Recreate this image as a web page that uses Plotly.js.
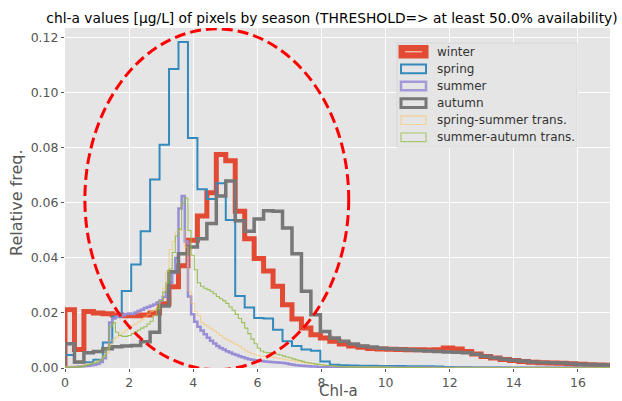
<!DOCTYPE html>
<html>
<head>
<meta charset="utf-8">
<script src="https://cdn.plot.ly/plotly-3.0.1.min.js"></script>
<style>html,body{margin:0;padding:0;background:#fff;}#chart{width:622px;height:401px;}</style>
</head>
<body>
<div id="chart"></div>
<script>
// ---- data ----
const BIN_W = 0.295;            // width of the coarse histogram bins (Chl-a units)
const FINE_BINS = 90;           // fine bins (BIN_W/3) used by summer & transition series up to 8.85
const seriesNames = ["winter", "spring", "summer", "autumn", "spring-summer trans.", "summer-autumn trans."];

const winter = [0.0212,0.0067,0.0205,0.0200,0.0197,0.0193,0.0190,0.0190,0.0193,0.0200,
  0.0234,0.0295,0.0372,0.0464,0.0553,0.0637,0.0776,0.0753,0.0570,0.0470,
  0.0398,0.0353,0.0297,0.0230,0.0178,0.0145,0.0121,0.0109,0.0097,0.0087,
  0.0080,0.0075,0.0071,0.0069,0.0068,0.0067,0.0066,0.0066,0.0065,0.0066,
  0.0073,0.0069,0.0060,0.0051,0.0042,0.0036,0.0031,0.0027,0.0024,0.0021,
  0.0019,0.0018,0.0017,0.0015,0.0014,0.0012,0.0011,0.0010];

const spring = [0.0047,0.0020,0.0021,0.0030,0.0093,0.0186,0.0280,0.0376,0.0497,0.0685,
  0.0812,0.1087,0.1185,0.0836,0.0650,0.0614,0.0672,0.0538,0.0262,0.0220,
  0.0182,0.0180,0.0139,0.0097,0.0080,0.0067,0.0063,0.0024,0.0012,0.0010,
  0.0009,0.0008,0.0008,0.0007,0.0007,0.0007,0.0006,0.0006,0.0006,0.0005,
  0.0004,0.0003,0.0003,0.0002,0.0002,0.0002,0.0002,0.0001,0.0001,0.0001,
  0.0001,0.0001,0.0001,0.0001,0.0001,0.0001,0.0001,0.0001];

const autumn = [0.0088,0.0022,0.0055,0.0060,0.0070,0.0077,0.0080,0.0082,0.0095,0.0130,
  0.0225,0.0350,0.0415,0.0440,0.0470,0.0525,0.0625,0.0680,0.0535,0.0497,
  0.0542,0.0572,0.0570,0.0509,0.0415,0.0279,0.0194,0.0133,0.0109,0.0097,
  0.0087,0.0080,0.0076,0.0072,0.0070,0.0068,0.0066,0.0064,0.0062,0.0060,
  0.0058,0.0057,0.0055,0.0050,0.0043,0.0037,0.0032,0.0028,0.0025,0.0022,
  0.0020,0.0019,0.0018,0.0016,0.0014,0.0013,0.0012,0.0011];

// fine-bin part (0 .. 8.85) followed by coarse tail (8.85 .. 17.1)
const summerFine = [0.0003,0.0003,0.0004,0.0004,0.0005,0.0006,0.0007,0.0008,0.0010,0.0012,
  0.0015,0.0022,0.0035,0.0070,0.0165,0.0180,0.0185,0.0188,0.0192,0.0196,
  0.0198,0.0196,0.0202,0.0207,0.0212,0.0218,0.0222,0.0226,0.0231,0.0237,
  0.0245,0.0258,0.0278,0.0310,0.0345,0.0400,0.0580,0.0625,0.0460,0.0260,
  0.0195,0.0168,0.0150,0.0136,0.0123,0.0110,0.0099,0.0089,0.0080,0.0073,
  0.0067,0.0061,0.0056,0.0051,0.0047,0.0043,0.0039,0.0035,0.0032,0.0030,
  0.0028,0.0026,0.0025,0.0024,0.0023,0.0022,0.0021,0.0020,0.0019,0.0018,
  0.0016,0.0014,0.0012,0.0010,0.0009,0.0008,0.0007,0.0006,0.0005,0.0005,
  0.0004,0.0004,0.0004,0.0004,0.0004,0.0003,0.0003,0.0003,0.0003,0.0003];
const summerTail = [0.0003,0.0003,0.0002,0.0002,0.0002,0.0002,0.0002,0.0002,0.0002,0.0001,
  0.0001,0.0001,0.0001,0.0001,0.0001,0.0001,0.0001,0.0001,0.0001,0.0001,
  0.0001,0.0001,0.0001,0.0001,0.0001,0.0001,0.0001,0.0001];

const sprSumFine = [0.0005,0.0005,0.0005,0.0005,0.0008,0.0010,0.0012,0.0015,0.0018,0.0022,
  0.0026,0.0030,0.0042,0.0055,0.0085,0.0105,0.0112,0.0120,0.0128,0.0138,
  0.0145,0.0155,0.0160,0.0168,0.0175,0.0185,0.0195,0.0205,0.0212,0.0225,
  0.0245,0.0290,0.0350,0.0430,0.0460,0.0495,0.0503,0.0500,0.0440,0.0280,
  0.0235,0.0205,0.0190,0.0165,0.0158,0.0150,0.0142,0.0135,0.0127,0.0118,
  0.0109,0.0103,0.0097,0.0091,0.0085,0.0079,0.0070,0.0063,0.0057,0.0052,
  0.0048,0.0045,0.0043,0.0042,0.0042,0.0040,0.0038,0.0036,0.0034,0.0032,
  0.0030,0.0028,0.0026,0.0024,0.0022,0.0020,0.0018,0.0016,0.0015,0.0013,
  0.0012,0.0011,0.0010,0.0009,0.0008,0.0007,0.0006,0.0006,0.0005,0.0005];
const sprSumTail = [0.0004,0.0004,0.0003,0.0003,0.0003,0.0002,0.0002,0.0002,0.0002,0.0002,
  0.0001,0.0001,0.0001,0.0001,0.0001,0.0001,0.0001,0.0001,0.0001,0.0001,
  0.0001,0.0001,0.0001,0.0001,0.0001,0.0001,0.0001,0.0001];

const sumAutFine = [0.0003,0.0003,0.0003,0.0003,0.0003,0.0005,0.0008,0.0012,0.0015,0.0018,
  0.0022,0.0030,0.0045,0.0070,0.0150,0.0165,0.0130,0.0118,0.0115,0.0115,
  0.0118,0.0125,0.0132,0.0138,0.0145,0.0150,0.0160,0.0170,0.0190,0.0215,
  0.0245,0.0275,0.0310,0.0360,0.0420,0.0480,0.0505,0.0600,0.0618,0.0500,
  0.0410,0.0357,0.0310,0.0297,0.0290,0.0285,0.0279,0.0270,0.0260,0.0252,
  0.0245,0.0235,0.0222,0.0210,0.0195,0.0180,0.0165,0.0145,0.0125,0.0105,
  0.0088,0.0072,0.0062,0.0057,0.0056,0.0055,0.0053,0.0050,0.0047,0.0043,
  0.0040,0.0037,0.0033,0.0030,0.0027,0.0024,0.0021,0.0019,0.0017,0.0015,
  0.0013,0.0012,0.0010,0.0009,0.0008,0.0007,0.0006,0.0005,0.0005,0.0004];
const sumAutTail = [0.0004,0.0003,0.0003,0.0003,0.0002,0.0002,0.0002,0.0002,0.0001,0.0001,
  0.0001,0.0001,0.0001,0.0001,0.0001,0.0001,0.0001,0.0001,0.0001,0.0001,
  0.0001,0.0001,0.0001,0.0001,0.0001,0.0001,0.0001,0.0001];

const xTickVals = [0, 2, 4, 6, 8, 10, 12, 14, 16];
const yTickVals = [0.00, 0.02, 0.04, 0.06, 0.08, 0.10, 0.12];
const chartTitle = "chl-a values [µg/L] of pixels by season (THRESHOLD=> at least 50.0% availability)";
const xLabel = "Chl-a";
const yLabel = "Relative freq.";

// ---- histogram edge helpers ----
function coarseEdges(n) { const e = []; for (let k = 0; k <= n; k++) e.push(k * BIN_W); return e; }
function fineEdges(nFine, nTail) {
  const fw = BIN_W / 3, e = [];
  for (let j = 0; j <= nFine; j++) e.push(j * fw);
  const start = nFine * fw;
  for (let k = 1; k <= nTail; k++) e.push(start + k * BIN_W);
  return e;
}
function stepTrace(edges, vals, name, color, width) {
  const x = [edges[0]], y = [0];
  for (let i = 0; i < vals.length; i++) { x.push(edges[i]); y.push(vals[i]); }
  x.push(edges[vals.length]); y.push(vals[vals.length - 1]);
  x.push(edges[vals.length]); y.push(0);
  return { type: "scatter", mode: "lines", x: x, y: y, name: name, showlegend: false,
           line: { shape: "hv", color: color, width: width }, hoverinfo: "skip" };
}

const COLORS = ["#E24A33", "#348ABD", "#988ED5", "#777777", "rgba(251,193,94,0.65)", "rgba(142,186,66,0.85)"];
const WIDTHS = [5, 2, 2.5, 3.5, 1, 1.1];

const traces = [
  stepTrace(coarseEdges(winter.length), winter, seriesNames[0], COLORS[0], WIDTHS[0]),
  stepTrace(coarseEdges(spring.length), spring, seriesNames[1], COLORS[1], WIDTHS[1]),
  stepTrace(fineEdges(FINE_BINS, summerTail.length), summerFine.concat(summerTail), seriesNames[2], COLORS[2], WIDTHS[2]),
  stepTrace(coarseEdges(autumn.length), autumn, seriesNames[3], COLORS[3], WIDTHS[3]),
  stepTrace(fineEdges(FINE_BINS, sprSumTail.length), sprSumFine.concat(sprSumTail), seriesNames[4], COLORS[4], WIDTHS[4]),
  stepTrace(fineEdges(FINE_BINS, sumAutTail.length), sumAutFine.concat(sumAutTail), seriesNames[5], COLORS[5], WIDTHS[5])
];

// ---- layout ----
const M = { l: 65, r: 12, t: 28, b: 33 };
const PW = 622 - M.l - M.r, PH = 401 - M.t - M.b;
const PX = px => (px - M.l) / PW;
const PY = py => (401 - M.b - py) / PH;
const FONT = "DejaVu Sans, Liberation Sans, sans-serif";

const shapes = [];
const annotations = [];

// ellipse highlight (data coordinates)
shapes.push({ type: "circle", xref: "x", yref: "y", x0: 0.62, x1: 8.85, y0: -0.0006, y1: 0.1233,
  line: { color: "#FF0000", width: 3, dash: "11px,5px" }, fillcolor: "rgba(0,0,0,0)", layer: "above" });

// legend frame
shapes.push({ type: "rect", xref: "paper", yref: "paper", x0: PX(397), x1: PX(577), y0: PY(147), y1: PY(43),
  line: { color: "#D6D6D6", width: 1 }, fillcolor: "#E5E5E5", layer: "above" });
const legendLine = ["#E24A33", "#348ABD", "rgba(152,142,213,0.85)", "#777777", "rgba(251,193,94,0.6)", "rgba(142,186,66,0.7)"];
const legendW = [5, 2, 2.5, 3, 1.2, 1.2];
for (let i = 0; i < seriesNames.length; i++) {
  const cy = 51.8 + 17.1 * i;
  shapes.push({ type: "rect", xref: "paper", yref: "paper", x0: PX(401), x1: PX(426), y0: PY(cy + 4.3), y1: PY(cy - 4.3),
    line: { color: legendLine[i], width: legendW[i] }, fillcolor: i === 0 ? "#E24A33" : "rgba(0,0,0,0)", layer: "above" });
  if (i === 0) {
    shapes.push({ type: "line", xref: "paper", yref: "paper", x0: PX(405), x1: PX(422), y0: PY(cy), y1: PY(cy),
      line: { color: "rgba(255,255,255,0.85)", width: 1 }, layer: "above" });
  }
  annotations.push({ xref: "paper", yref: "paper", x: PX(435), y: PY(cy), xanchor: "left", yanchor: "middle",
    text: seriesNames[i], showarrow: false, font: { family: FONT, size: 12, color: "#333" } });
}

// axis labels
annotations.push({ xref: "paper", yref: "paper", x: PX(338), y: PY(401), xanchor: "center", yanchor: "bottom",
  text: xLabel, showarrow: false, borderpad: 0, font: { family: FONT, size: 15, color: "#555555" } });
annotations.push({ xref: "paper", yref: "paper", x: PX(17), y: PY(203), xanchor: "center", yanchor: "middle",
  text: yLabel, textangle: -90, showarrow: false, font: { family: FONT, size: 16, color: "#555555" } });

const axisCommon = {
  showgrid: true, gridcolor: "#FFFFFF", gridwidth: 1, zeroline: false, showline: false,
  ticks: "outside", ticklen: 3, tickwidth: 1, tickcolor: "#555555",
  tickfont: { family: FONT, size: 12.5, color: "#555555" }, fixedrange: true
};

const layout = {
  width: 622, height: 401, margin: M,
  paper_bgcolor: "#FFFFFF", plot_bgcolor: "#E5E5E5",
  showlegend: false,
  title: { text: chartTitle, font: { family: FONT, size: 13.8, color: "#000000" },
           x: PX(332), xref: "paper", xanchor: "center", y: 1 - 18 / 401, yref: "container", yanchor: "middle" },
  xaxis: Object.assign({}, axisCommon, { range: [0, 17], tickvals: xTickVals, ticktext: xTickVals.map(String) }),
  yaxis: Object.assign({}, axisCommon, { range: [0, 0.1236], tickvals: yTickVals, ticktext: yTickVals.map(v => v.toFixed(2)) }),
  shapes: shapes, annotations: annotations
};

Plotly.newPlot("chart", traces, layout, { staticPlot: true, displayModeBar: false });
</script>
</body>
</html>
